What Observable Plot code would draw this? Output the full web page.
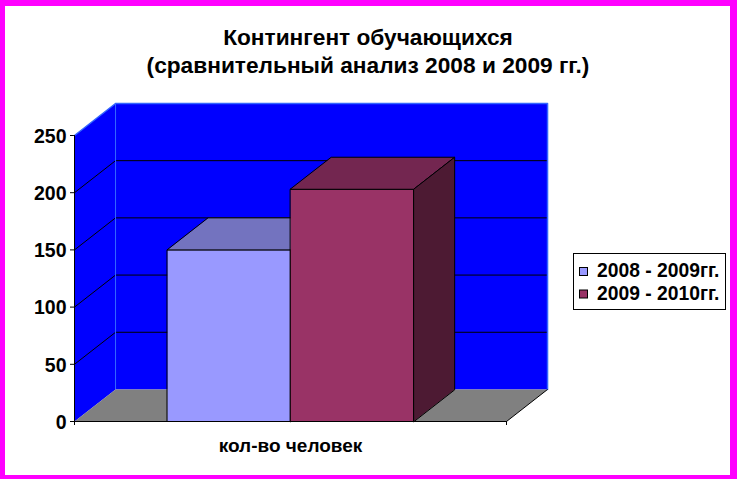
<!DOCTYPE html>
<html>
<head>
<meta charset="utf-8">
<script src="https://cdn.jsdelivr.net/npm/d3@7"></script>
<script src="https://cdn.jsdelivr.net/npm/@observablehq/plot@0.6"></script>
<style>
  body { margin: 0; background: #fff; }
  #wrap { position: relative; width: 737px; height: 479px; overflow: hidden; background: #fff; }
  #wrap svg { position: absolute; left: 0; top: 0; }
  #frame { position: absolute; left: 0; top: 0; width: 737px; height: 479px; box-sizing: border-box;
           border-style: solid; border-color: #ff00ff; border-width: 6px 7px 4px 5px; pointer-events: none; }
</style>
</head>
<body>
<div id="wrap"><div id="frame"></div></div>
<script>
// ---- data ----
const titleLines = ["Контингент обучающихся", "(сравнительный анализ 2008 и 2009 гг.)"];
const categories = ["кол-во человек"];
const series = ["2008 - 2009гг.", "2009 - 2010гг."];
const values = [150, 203];
const yTicks = [0, 50, 100, 150, 200, 250];

// ---- styles / projection ----
const FONT = "'Liberation Sans', Arial, sans-serif";
const frontColors = ["#9999ff", "#993366"];
const topColors = ["#7373bf", "#732650"];
const sideColors = ["#5c5c99", "#4d1a33"];
const WALL = "#0000ff", FLOOR = "#808080", EDGE = "#3366ff";
const DX = 0.095;   // depth offset in x-domain units
const DZ = 28;      // depth offset in value units
const YMAX = 250;

const W = 737, H = 479;
const catBand = d3.scaleBand().domain(categories).range([0, 1]);
const barBand = d3.scaleBand().domain(series).range([0.215, 0.785]);

const polys = [];
function poly(id, pts, fill, stroke) {
  pts.forEach(([x, y]) => polys.push({id, x, y, fill, stroke}));
}
const walls = [];
function wall(id, pts, fill) { pts.forEach(([x, y]) => walls.push({id, x, y, fill})); }
wall("back", [[DX, DZ], [1 + DX, DZ], [1 + DX, YMAX + DZ], [DX, YMAX + DZ]], WALL);
wall("left", [[0, 0], [DX, DZ], [DX, YMAX + DZ], [0, YMAX]], WALL);
wall("floor", [[0, 0], [1, 0], [1 + DX, DZ], [DX, DZ]], FLOOR);

series.forEach((s, i) => {
  const v = values[i];
  const x0 = barBand(s), x1 = x0 + barBand.bandwidth();
  poly("front" + i, [[x0, 0], [x1, 0], [x1, v], [x0, v]], frontColors[i], "#000");
  poly("top" + i, [[x0, v], [x1, v], [x1 + DX, v + DZ], [x0 + DX, v + DZ]], topColors[i], "#000");
  poly("side" + i, [[x1, 0], [x1, v], [x1 + DX, v + DZ], [x1 + DX, DZ]], sideColors[i], "#000");
});
const barPolys = series.flatMap((s, i) => ["front", "top", "side"].map(k => k + i));

const gridTicks = yTicks.filter(t => t > 0 && t < YMAX);
const topEdge = [[0, YMAX], [DX, YMAX + DZ], [1 + DX, YMAX + DZ], [1 + DX, DZ]].map(([x, y]) => ({x, y}));

const chart = Plot.plot({
  width: W, height: H,
  marginLeft: 74, marginRight: W - 506, marginTop: 135, marginBottom: H - 421,
  x: {domain: [0, 1], axis: null},
  y: {domain: [0, YMAX], ticks: yTicks, tickSize: 4, tickFormat: () => "", label: null},
  color: {type: "identity"},
  style: {fontFamily: FONT, fontWeight: "bold", color: "#000", background: "transparent", overflow: "visible"},
  marks: [
    Plot.line(walls, {x: "x", y: "y", z: "id", fill: "fill", stroke: null, curve: "linear-closed"}),
    Plot.ruleY(gridTicks, {y: t => t + DZ, x1: DX, x2: 1 + DX, stroke: "#000", strokeWidth: 1}),
    Plot.link(gridTicks, {x1: 0, y1: t => t, x2: DX, y2: t => t + DZ, stroke: "#000", strokeWidth: 1}),
    Plot.line(topEdge, {x: "x", y: "y", stroke: EDGE, strokeWidth: 1.5}),
    Plot.ruleX([DX], {y1: DZ, y2: YMAX + DZ, stroke: EDGE, strokeWidth: 1}),
    Plot.link([0], {x1: 1, y1: 0, x2: 1 + DX, y2: DZ, stroke: "#000", strokeWidth: 1}),
    ...barPolys.map(id => Plot.line(polys.filter(p => p.id === id),
      {x: "x", y: "y", fill: "fill", stroke: "stroke", strokeWidth: 1, curve: "linear-closed"})),
    Plot.ruleX([0], {y1: -3.5, y2: YMAX, stroke: "#000", strokeWidth: 1}),
    Plot.ruleY([0], {x1: 0, x2: 1, stroke: "#000", strokeWidth: 1}),
    Plot.ruleX([1], {y1: -3.5, y2: 0, stroke: "#000", strokeWidth: 1}),
    Plot.text(yTicks, {x: 0, y: d => d, text: d => String(d), dx: -8, dy: 1, textAnchor: "end",
      lineAnchor: "middle", fontSize: 19.5, fontWeight: "bold", fill: "#000"}),
    Plot.text(categories, {x: c => catBand(c) + catBand.bandwidth() / 2, y: 0, text: d => d,
      dy: 24, fontSize: 19, fontWeight: "bold", fill: "#000", lineAnchor: "middle"})
  ]
});
document.getElementById("wrap").insertBefore(chart, document.getElementById("frame"));

// ---- title and legend overlay ----
const ov = d3.select("#wrap").insert("svg", "#frame")
  .attr("width", W).attr("height", H)
  .style("font-family", FONT).style("font-weight", "bold");
ov.selectAll("text.title").data(titleLines).join("text")
  .attr("class", "title")
  .attr("x", 368).attr("y", (d, i) => 45 + i * 27.5)
  .attr("text-anchor", "middle").attr("font-size", 22.7).attr("fill", "#000")
  .text(d => d);

const lg = ov.append("g").attr("transform", "translate(573,253)");
lg.append("rect").attr("x", 0.5).attr("y", 0.5).attr("width", 152).attr("height", 56)
  .attr("fill", "#fff").attr("stroke", "#000");
const rows = lg.selectAll("g.row").data(series).join("g")
  .attr("class", "row").attr("transform", (d, i) => `translate(0,${14 + i * 22.5})`);
rows.append("rect").attr("x", 6.5).attr("y", 0.5).attr("width", 8).attr("height", 8)
  .attr("fill", (d, i) => frontColors[i]).attr("stroke", "#000");
rows.append("text").attr("x", 24).attr("y", 10).attr("font-size", 19.3).attr("fill", "#000")
  .text(d => d);
</script>
</body>
</html>
